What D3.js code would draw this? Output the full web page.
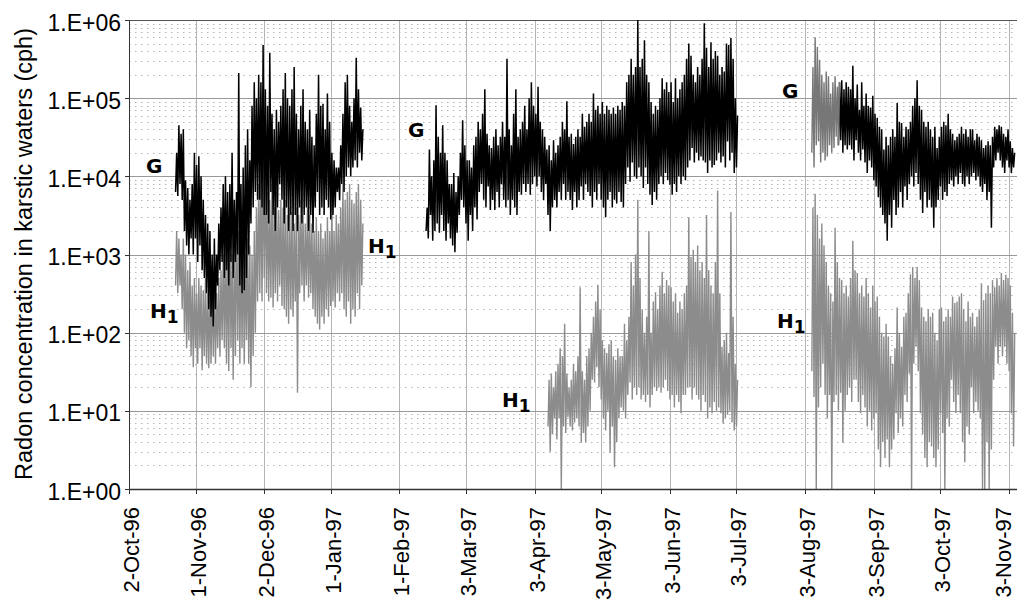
<!DOCTYPE html>
<html>
<head>
<meta charset="utf-8">
<script src="https://cdn.jsdelivr.net/npm/d3@7"></script>
<style>
  body { margin: 0; background: #fff; }
  text { font-family: "Liberation Sans", Arial, sans-serif; fill: #000; }
</style>
</head>
<body>
<div id="chart"></div>
<script>
// Daily [low, high] readings (cph), one pair per day from the start date
const gAutumn96 = [
  [6.3e3,2e4],[5.6e3,4.5e4],[8e3,3.5e4],[5e3,4e4],[2e3,8.9e3],[1.3e3,7.1e3],[1e3,5e3],[1.6e3,8e3],[1e3,2e4],[1.6e3,1.4e4],
  [800,1.8e4],[1.3e3,1e4],[630,5e3],[500,3.2e3],[320,2.5e3],[200,2e3],[160,1e3],[120,1.6e3],[200,1e3],[400,2.5e3],
  [630,4e3],[800,8e3],[500,1e4],[630,6.3e3],[400,8e3],[800,2e4],[500,5e3],[800,6.3e3],[1e3,2.1e5],[400,8e3],
  [320,1.3e4],[350,2.5e4],[500,4e4],[1e3,1.6e4],[2.5e3,8e4],[4e3,1.6e5],[6.3e3,1e5],[5e3,2e5],[5e3,1.6e5],[4e3,4.8e5],
  [3.2e3,1.3e5],[3.2e3,8e4],[2.5e3,3.8e5],[6.3e3,6.3e4],[3.2e3,4e4],[2e3,7.1e4],[4e3,5e4],[8e3,8e4],[5e3,1.3e5],[2.5e3,2.1e5],
  [4e3,1e5],[2e3,8e4],[3.2e3,1.3e5],[2e3,2.5e5],[3.2e3,6.3e4],[2e3,4e4],[4e3,8e4],[2.5e3,1.3e5],[3.2e3,5e4],[4e3,4e4],
  [2e3,7.1e4],[3.2e3,3.2e4],[1.9e3,2.5e4],[4e3,6.3e4],[6.3e3,2e5],[3.2e3,8e4],[4e3,8.5e4],[3.2e3,4e4],[5e3,1.15e5],[4e3,5e4],
  [2.8e3,2e4],[3.2e3,1.6e4],[4e3,1.3e4],[6.3e3,1.3e4],[5e3,2.5e4],[8e3,6.3e4],[6.3e3,1.6e5],[1e4,2e5],[1.3e4,8e4],[1e4,5e4],
  [1.3e4,1e5],[1.6e4,3.3e5],[1.3e4,1.3e5],[2e4,7.6e4],[1.6e4,4e4]
];
const h1Autumn96 = [
  [400,2e3],[320,1.6e3],[400,1e3],[200,1.6e3],[100,1e3],[63,630],[80,800],[50,400],[36,500],[63,320],
  [40,500],[63,400],[33,350],[50,500],[40,320],[35,400],[40,450],[50,400],[40,320],[63,500],
  [50,630],[80,1e3],[63,1.3e3],[40,1.6e3],[32,2e3],[63,1e3],[25,1.3e3],[50,3.2e3],[80,2e3],[40,1.6e3],
  [63,1.9e3],[40,1e3],[80,1.6e3],[40,1.3e3],[20,1e3],[50,2e3],[100,4e3],[250,8e3],[320,1.3e4],[250,2e4],
  [500,1.2e4],[320,6.3e3],[250,5e3],[280,8e3],[210,4e3],[320,6.3e3],[250,3.7e3],[400,5e3],[220,4e3],[200,5e3],
  [160,3.2e3],[130,4e3],[200,3.5e3],[160,2.5e3],[250,4e3],[17,3.2e3],[320,5e3],[400,3.2e3],[250,2.5e3],[400,4e3],
  [280,3.2e3],[320,2.5e3],[200,2e3],[160,3e3],[130,2e3],[110,2.5e3],[160,1.6e3],[130,2e3],[200,3e3],[160,2e3],
  [220,4.5e3],[250,2e3],[210,3.2e3],[320,2.5e3],[250,4e3],[320,8e3],[200,5e3],[160,6.3e3],[250,8e3],[130,5e3],
  [200,4.5e3],[160,6.3e3],[320,8e3],[200,5e3],[400,2.5e3]
];
const gSpring97 = [
  [2e3,4e3],[1.6e3,2.2e4],[3.2e3,1e4],[1.5e3,1.6e4],[2e3,8.1e4],[2.5e3,3.2e4],[1.9e3,2e4],[3.2e3,4.5e4],[2e3,2e4],[1.5e3,1.6e4],
  [2.5e3,8e3],[1.6e3,8e3],[1.3e3,1.1e4],[1.07e3,6.3e3],[1.9e3,1e4],[3.2e3,2e4],[5e3,5.2e4],[4e3,2.5e4],[2.5e3,1.6e4],[1.5e3,1.6e4],
  [3.2e3,1.3e4],[2e3,2.5e4],[4e3,3.2e4],[2.8e3,5e4],[6.3e3,4e4],[8e3,6.3e4],[5e3,1.3e5],[4e3,3.5e4],[7.4e3,2.5e4],[3.7e3,2.3e4],
  [5e3,3.2e4],[3.7e3,4e4],[6.3e3,2.5e4],[4e3,3.2e4],[8e3,5e4],[5e3,3.2e4],[4e3,3.2e5],[5e3,4e4],[3.2e3,2.5e4],[5e3,6.3e4],
  [4e3,1.3e5],[3.2e3,3.2e4],[6.3e3,4e4],[5.8e3,5e4],[8e3,8e4],[6.3e3,4e4],[8e3,1e5],[5.8e3,1.6e5],[8e3,8e4],[1e4,6.3e4],
  [7.4e3,1.4e5],[1e4,5e4],[6.3e3,4e4],[5e3,3.2e4],[8e3,2.2e4],[3.2e3,2.5e4],[2e3,1.6e4],[4e3,2.9e4],[5e3,2e4],[4e3,2.5e4],
  [6.3e3,3.2e4],[5e3,5e4],[8e3,4e4],[5e3,9.1e4],[6.3e3,3.2e4],[5e3,3.5e4],[3.7e3,2.6e4],[6.3e3,3.2e4],[4e3,4e4],[5e3,3.2e4],
  [7.4e3,6.3e4],[5e3,4.3e4],[8e3,5e4],[6.3e3,6.3e4],[5.6e3,5e4],[4e3,1.15e5],[6.3e3,7.1e4],[5e3,8e4],[8e3,6.3e4],[5e3,8.9e4],
  [4e3,6.3e4],[3e3,8e4],[5e3,7.1e4],[6.3e3,6.3e4],[4e3,7.6e4],[5e3,6.3e4],[4.5e3,8e4],[6.3e3,7.1e4],[4.7e3,8.9e4],[4e3,8e4],
  [8e3,1.6e5],[1.3e4,2e5],[8.5e3,3.2e5],[1.5e4,2e5],[1e4,2.5e5],[9.3e3,1e6],[1.3e4,2.5e5],[1e4,3.2e5],[7.1e3,5.5e5],[1.3e4,2e5],
  [8e3,1.6e5],[5.8e3,8.9e4],[4.3e3,6.3e4],[6.3e3,8e4],[5e3,7.1e4],[8e3,1e5],[1e4,1.8e5],[8e3,1.3e5],[1.1e4,1.6e5],[8.9e3,1.2e5],
  [7.8e3,1.6e5],[5.8e3,8.9e4],[8e3,1.8e5],[6.3e3,1e5],[1e4,1.3e5],[8e3,1.6e5],[1e4,2e5],[8.9e3,3.2e5],[1.3e4,5e5],[1.6e4,3.5e5],
  [2.3e4,2e5],[1.5e4,1.6e5],[2e4,2.5e5],[1.6e4,2e5],[1.8e4,3.2e5],[1.6e4,9.1e5],[1.5e4,4.4e5],[1.1e4,2.5e5],[1.6e4,5.2e5],[1.3e4,3.2e5],
  [1.4e4,4e5],[1.6e4,3.5e5],[2e4,2e5],[1.5e4,2.5e5],[1.8e4,2.2e5],[1.3e4,5e5],[2.8e4,4.8e5],[1.6e4,5.9e5],[2e4,3.2e5],[1.1e4,1e5],
  [1.3e4,6e4]
];
const h1Spring97 = [
  [6.3,25],[3,30],[5,20],[8,32],[4.3,40],[8,63],[1,50],[6.3,130],[5.2,30],[8.3,20],
  [6.3,25],[5.6,40],[7.1,32],[8,50],[6.3,380],[3.9,32],[5.2,25],[4,50],[6.3,63],[10,100],
  [25,160],[23,250],[36,410],[20,200],[14,80],[8,63],[5.6,55],[10,71],[2.9,80],[6.3,50],
  [1.9,45],[4,63],[8,50],[11,50],[10,130],[8,80],[16,160],[23,800],[14,400],[20,1e3],
  [16,5e3],[20,500],[14,200],[16,100],[13,160],[16,2e3],[11,100],[16,250],[20,330],[18,200],
  [20,400],[17,600],[20,320],[25,470],[18,400],[14,380],[16,250],[11,320],[16,180],[13,250],
  [9.3,200],[16,320],[16,400],[20,3e3],[20,930],[14,1.15e3],[20,800],[16,1.3e3],[14,630],[10,800],
  [16,500],[13,3.2e3],[8,630],[11,400],[9.3,320],[13,800],[10,6.6e3],[11,320],[9.3,66],[6.9,80],
  [8,100],[8.9,55],[10,3.5e3],[7.1,160],[5.6,40],[6.3,25]
];
const gAutumn97 = [
  [2e4,2.5e5],[1.3e4,6e5],[2.5e4,4.5e5],[2.8e4,3.1e5],[1.5e4,2e5],[2e4,1.6e5],[1.6e4,2.2e5],[1.8e4,1.9e5],[2.5e4,1.15e5],[2e4,1.6e5],
  [2.3e4,1.9e5],[3.2e4,1.4e5],[2.5e4,1.6e5],[2.9e4,1.7e5],[2e4,1.3e5],[2.5e4,1.6e5],[2.2e4,1.4e5],[2.5e4,1.3e5],[2.2e4,2.6e5],[1.6e4,1e5],
  [2.9e4,1.5e5],[2e4,7.1e4],[1.6e4,1.6e5],[2.2e4,8e4],[1.5e4,1.15e5],[1.1e4,8e4],[1.6e4,7.6e4],[1.3e4,1.07e5],[8.9e3,6.3e4],[7.4e3,5.6e4],
  [5.4e3,4.3e4],[4e3,4e4],[3.2e3,2.2e4],[2.5e3,3.2e4],[1.5e3,2.5e4],[3.2e3,3.2e4],[2.2e3,4e4],[5e3,3.2e4],[3.2e3,8.7e4],[4e3,5e4],
  [6.3e3,4.8e4],[4e3,3.2e4],[7.4e3,4.3e4],[5e3,4e4],[8e3,5e4],[1e4,8e4],[7.4e3,1e5],[1.1e4,1.7e5],[8e3,8e4],[5e3,7.1e4],
  [3.4e3,5e4],[6.3e3,4.3e4],[4e3,5e4],[5e3,4e4],[4e3,3.2e4],[2.2e3,4.3e4],[4e3,2.3e4],[5e3,3.2e4],[7.4e3,4.3e4],[5e3,5e4],
  [6.3e3,4.5e4],[5.6e3,6.3e4],[8e3,4e4],[8.9e3,3.5e4],[7.4e3,2.9e4],[1e4,3.2e4],[8e3,3.5e4],[1.1e4,4.3e4],[8e3,3.5e4],[7.4e3,4e4],
  [1e4,3.2e4],[8e3,4e4],[1e4,4e4],[1.1e4,2.9e4],[8.9e3,3.5e4],[1e4,3.2e4],[7.4e3,2.9e4],[6.3e3,2.3e4],[8e3,2.5e4],[5e3,2.8e4],
  [6.3e3,2.5e4],[2.2e3,3.2e4],[1.3e4,4.3e4],[1.6e4,4e4],[2e4,4.5e4],[1.6e4,4.3e4],[1.3e4,3.5e4],[1.1e4,3.2e4],[1.6e4,4e4],[1.3e4,2.8e4],
  [1.1e4,2.3e4],[1.3e4,2e4]
];
const h1Autumn97 = [
  [32,4e3],[15,6e3],[1,3.2e3],[11,1.6e3],[20,2.5e3],[40,1.3e3],[16,800],[8,400],[16,320],[1,250],
  [13,2.2e3],[16,800],[10,500],[17,470],[3.9,320],[10,400],[16,290],[20,500],[13,1.5e3],[25,630],
  [25,580],[13,320],[9.3,400],[16,290],[11,500],[6.3,320],[10,210],[5.6,400],[8,250],[9.3,290],
  [3.2,160],[1.9,100],[4,89],[2.5,130],[4.3,89],[1.9,50],[3.2,40],[4.3,63],[9.3,210],[5.2,100],
  [8,66],[6.3,160],[16,180],[13,320],[30,560],[1,690],[40,500],[66,690],[32,470],[9.3,210],
  [5,160],[2.5,140],[1.9,200],[4,160],[3.5,180],[2.5,100],[1.9,80],[3.2,200],[9.3,210],[5.2,140],
  [1,160],[8,200],[6.3,160],[25,290],[13,240],[9.3,250],[16,290],[9.3,320],[4,200],[2.2,140],
  [6.3,250],[5,160],[20,180],[9.3,120],[13,160],[10,200],[8,430],[1,260],[1,320],[4,400],
  [1,320],[3.2,470],[25,380],[66,500],[40,400],[66,580],[50,470],[66,550],[40,500],[32,400],
  [9.3,180],[3.5,100]
];

// axis ticks
const tickDates = ["1996-10-02","1996-11-01","1996-12-02","1997-01-01","1997-02-01","1997-03-03","1997-04-03",
  "1997-05-03","1997-06-03","1997-07-03","1997-08-03","1997-09-03","1997-10-03","1997-11-03"];
const yTicks = [1, 10, 100, 1e3, 1e4, 1e5, 1e6];

const width = 1017, height = 601;
const plot = { left: 129, right: 1018, top: 20, bottom: 489 };
const gLightDays = 13; // start of the Aug-97 G record prints lighter

const parse = d3.timeParse("%Y-%m-%d");
const x = d3.scaleTime()
  .domain([parse("1996-10-02"), parse("1997-11-07")])
  .range([plot.left, plot.right]);
const y = d3.scaleLog().domain([1, 1e6]).range([plot.bottom, plot.top]);

const svg = d3.select("#chart").append("svg")
  .attr("width", width).attr("height", height);

svg.append("defs").append("clipPath").attr("id", "plotclip")
  .append("rect")
  .attr("x", plot.left).attr("y", plot.top - 1)
  .attr("width", plot.right - plot.left).attr("height", plot.bottom - plot.top + 1);

// minor horizontal grid (dotted)
const minor = y.ticks().filter(v => !yTicks.includes(v));
svg.append("g").selectAll("line").data(minor).join("line")
  .attr("x1", plot.left).attr("x2", width)
  .attr("y1", d => Math.round(y(d)) + 0.5).attr("y2", d => Math.round(y(d)) + 0.5)
  .style("stroke", "#b4b4b4").style("stroke-dasharray", "1.5,4.5");

// vertical grid
const tickList = tickDates.map(parse);
svg.append("g").selectAll("line").data(tickList).join("line")
  .attr("x1", d => Math.round(x(d)) + 0.5).attr("x2", d => Math.round(x(d)) + 0.5)
  .attr("y1", plot.top).attr("y2", plot.bottom)
  .style("stroke", "#b4b4b4");

// major horizontal grid
svg.append("g").selectAll("line").data(yTicks).join("line")
  .attr("x1", plot.left).attr("x2", width)
  .attr("y1", d => Math.round(y(d)) + 0.5).attr("y2", d => Math.round(y(d)) + 0.5)
  .style("stroke", d => d === 1e6 ? "#555" : "#999");

// build points: low at start of day, high at midday
function toPoints(start, pairs) {
  const t0 = parse(start);
  const pts = [];
  pairs.forEach(([lo, hi], i) => {
    const day = d3.timeDay.offset(t0, i);
    pts.push({ date: day, value: lo, i });
    pts.push({ date: d3.timeHour.offset(day, 12), value: hi, i });
  });
  return pts;
}

const line = d3.line().x(d => x(d.date)).y(d => y(d.value));
const lines = svg.append("g").attr("clip-path", "url(#plotclip)");

const h1Color = "#8c8c8c";
[["1996-10-23", h1Autumn96], ["1997-04-09", h1Spring97], ["1997-08-06", h1Autumn97]].forEach(([s, arr]) => {
  lines.append("path").datum(toPoints(s, arr)).attr("d", line)
    .style("fill", "none").style("stroke", h1Color).style("stroke-width", 1.4);
});

[["1996-10-23", gAutumn96], ["1997-02-13", gSpring97]].forEach(([s, arr]) => {
  lines.append("path").datum(toPoints(s, arr)).attr("d", line)
    .style("fill", "none").style("stroke", "#000").style("stroke-width", 1.5);
});
const gLate = toPoints("1997-08-06", gAutumn97);
lines.append("path").datum(gLate.filter(d => d.i >= gLightDays - 1)).attr("d", line)
  .style("fill", "none").style("stroke", "#000").style("stroke-width", 1.5);
lines.append("path").datum(gLate.filter(d => d.i < gLightDays)).attr("d", line)
  .style("fill", "none").style("stroke", "#777").style("stroke-width", 1.4);

// axes
svg.append("line").attr("x1", plot.left + 0.5).attr("x2", plot.left + 0.5)
  .attr("y1", plot.top).attr("y2", plot.bottom + 5).style("stroke", "#333");
svg.append("line").attr("x1", plot.left).attr("x2", width)
  .attr("y1", plot.bottom + 0.5).attr("y2", plot.bottom + 0.5)
  .style("stroke", "#333").style("stroke-width", 1.5);

svg.append("g").selectAll("line").data(yTicks).join("line")
  .attr("x1", plot.left - 4).attr("x2", plot.left)
  .attr("y1", d => Math.round(y(d)) + 0.5).attr("y2", d => Math.round(y(d)) + 0.5)
  .style("stroke", "#333");
svg.append("g").selectAll("line").data(tickList).join("line")
  .attr("x1", d => Math.round(x(d)) + 0.5).attr("x2", d => Math.round(x(d)) + 0.5)
  .attr("y1", plot.bottom).attr("y2", plot.bottom + 5)
  .style("stroke", "#333");

const yFmt = d => "1.E+" + d3.format("02")(Math.round(Math.log10(d)));
svg.append("g").selectAll("text").data(yTicks).join("text")
  .attr("x", 121).attr("y", d => y(d) + 10.5)
  .attr("text-anchor", "end").style("font-size", "23px")
  .text(yFmt);

const xFmt = d3.timeFormat("%-d-%b-%y");
svg.append("g").selectAll("text").data(tickList).join("text")
  .attr("transform", d => `translate(${Math.min(x(d) + 10, width - 6)},507) rotate(-90)`)
  .attr("text-anchor", "end").style("font-size", "22px")
  .text(xFmt);

svg.append("text")
  .attr("transform", "translate(32,254) rotate(-90)")
  .attr("text-anchor", "middle").style("font-size", "23.5px")
  .text("Radon concentration in karstic waters (cph)");

// series labels
const labelSpots = [
  { t: "G", x: 146, y: 173 }, { t: "H", sub: "1", x: 150, y: 318 }, { t: "H", sub: "1", x: 368, y: 253 },
  { t: "G", x: 408, y: 137 }, { t: "H", sub: "1", x: 502, y: 407 },
  { t: "G", x: 782, y: 98 }, { t: "H", sub: "1", x: 777, y: 328 }
];
labelSpots.forEach(l => {
  const t = svg.append("text").attr("x", l.x).attr("y", l.y)
    .style("font-family", "'DejaVu Sans', sans-serif")
    .style("font-weight", "bold").style("font-size", "20px").text(l.t);
  if (l.sub) t.append("tspan").attr("dy", 5).style("font-size", "17px").text(l.sub);
});
</script>
</body>
</html>
